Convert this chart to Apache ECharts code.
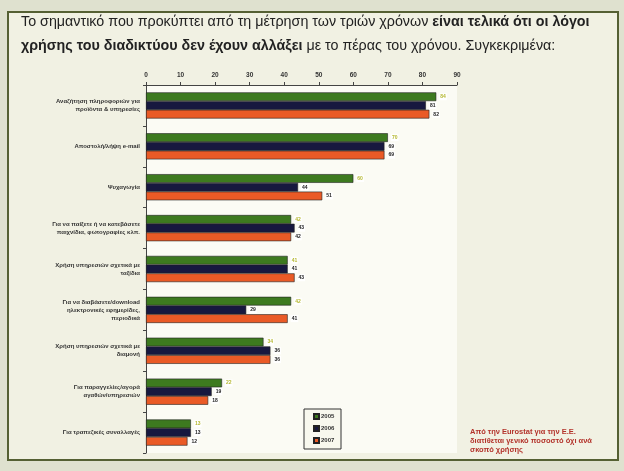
<!DOCTYPE html>
<html><head><meta charset="utf-8">
<script src="https://cdn.jsdelivr.net/npm/echarts@6/dist/echarts.min.js"></script>
<style>html,body{margin:0;padding:0;background:#dfe1cf}#c{width:624px;height:471px}</style>
</head><body><div id="c"></div>
<script>
const categories = [
  "Αναζήτηση πληροφοριών για\nπροϊόντα & υπηρεσίες",
  "Αποστολή/λήψη e-mail",
  "Ψυχαγωγία",
  "Για να παίξετε ή να κατεβάσετε\nπαιχνίδια, φωτογραφίες κλπ.",
  "Χρήση υπηρεσιών σχετικά με\nταξίδια",
  "Για να διαβάσετε/download\nηλεκτρονικές εφημερίδες,\nπεριοδικά",
  "Χρήση υπηρεσιών σχετικά με\nδιαμονή",
  "Για παραγγελίες/αγορά\nαγαθών/υπηρεσιών",
  "Για τραπεζικές συναλλαγές"
];
const years = ["2005", "2006", "2007"];
const values2005 = [84, 70, 60, 42, 41, 42, 34, 22, 13];
const values2006 = [81, 69, 44, 43, 41, 29, 36, 19, 13];
const values2007 = [82, 69, 51, 42, 43, 41, 36, 18, 12];
const xTicks = [0, 10, 20, 30, 40, 50, 60, 70, 80, 90];

const colors = ["#3d7a1f", "#17183f", "#ea5a26"];
const labelColors = ["#b5b830", "#222", "#222"];
const seriesData = [values2005, values2006, values2007];

const chart = echarts.init(document.getElementById('c'));
chart.setOption({
  backgroundColor: '#dfe1cf',
  animation: false,
  graphic: [
    {type: 'rect', shape: {x: 8, y: 12, width: 610, height: 448}, style: {fill: '#f1f1e3', stroke: '#556033', lineWidth: 2}, z: -10},
    {type: 'text', left: 21, top: 15, style: {
      text: '{n|Το σημαντικό που προκύπτει από τη μέτρηση των τριών χρόνων }{b|είναι τελικά ότι οι λόγοι}\n{b|χρήσης του διαδικτύου δεν έχουν αλλάξει}{n| με το πέρας του χρόνου. Συγκεκριμένα:}',
      rich: {
        n: {fontFamily: 'Liberation Sans', fontSize: 14.3, fill: '#222', lineHeight: 24},
        b: {fontFamily: 'Liberation Sans', fontSize: 14.3, fontWeight: 'bold', fill: '#222', lineHeight: 24}
      }
    }},
    {type: 'rect', shape: {x: 304, y: 409, width: 37, height: 40}, style: {fill: '#f8f8ee', stroke: '#333', lineWidth: 1}, z: 5},
    {type: 'text', left: 470, top: 427, style: {
      text: 'Από την Eurostat για την Ε.Ε.\nδιατίθεται γενικό ποσοστό όχι ανά\nσκοπό χρήσης',
      fill: '#b3332b', fontFamily: 'Liberation Sans', fontSize: 7.5, fontWeight: 'bold', lineHeight: 9
    }}
  ],
  legend: {
    data: years, orient: 'vertical', left: 308, top: 408, itemWidth: 5, itemHeight: 5, itemGap: 5,
    textStyle: {fontSize: 6, fontWeight: 'bold', color: '#333', padding: [0, 0, 0, -3]}, icon: 'rect', z: 6
  },
  grid: {left: 146, top: 85, right: 167, bottom: 18, show: true, backgroundColor: '#fbfbf4', borderWidth: 0},
  xAxis: {
    type: 'value', position: 'top', min: 0, max: 90, interval: 10,
    axisLine: {show: true, lineStyle: {color: '#444', width: 1}},
    axisTick: {show: true, length: 3, lineStyle: {color: '#444'}},
    axisLabel: {fontSize: 6.5, fontWeight: 'bold', color: '#333', margin: 6,
      formatter: v => xTicks.includes(v) ? String(v) : ''},
    splitLine: {show: false}
  },
  yAxis: {
    type: 'category', data: categories, inverse: true,
    axisLine: {show: true, lineStyle: {color: '#444'}},
    axisTick: {show: true, length: 3, lineStyle: {color: '#444'}},
    axisLabel: {fontSize: 6, fontWeight: 'bold', color: '#333', lineHeight: 8, margin: 6, align: 'right'}
  },
  series: years.map((y, i) => ({
    name: y, type: 'bar', data: seriesData[i],
    barGap: '0%', barCategoryGap: '36%',
    itemStyle: {color: colors[i], borderColor: '#222', borderWidth: 0.6},
    label: {show: true, position: 'right', distance: 3, fontSize: 5, fontWeight: 'bold',
      color: labelColors[i], backgroundColor: '#ffffff', padding: [1, 1]}
  }))
});
</script></body></html>
